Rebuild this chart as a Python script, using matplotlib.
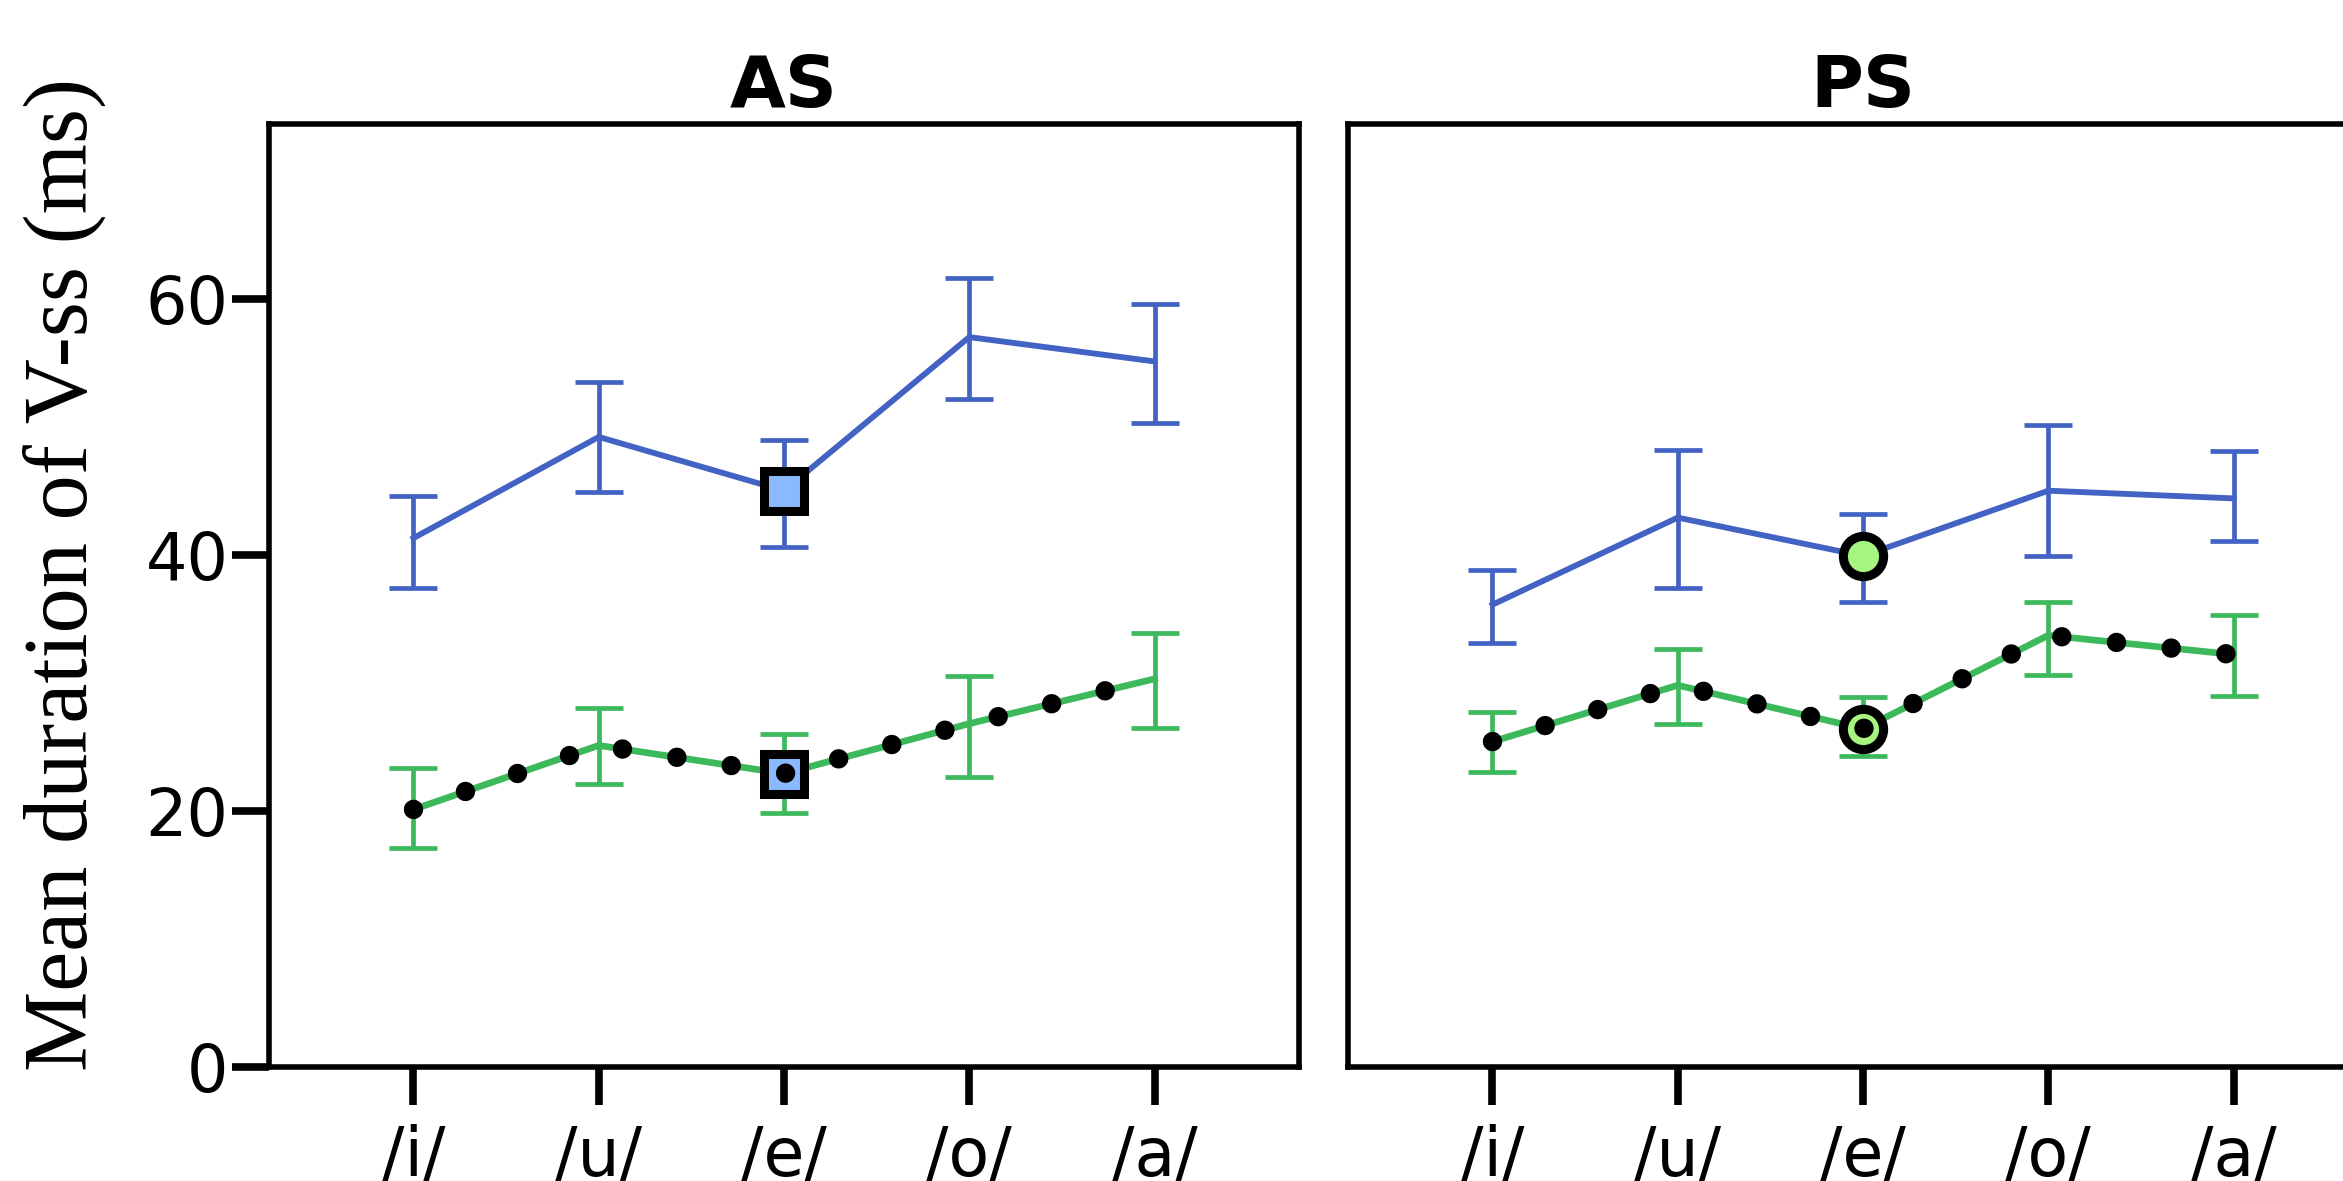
import numpy as np
import matplotlib.pyplot as plt

plt.rcParams['lines.scale_dashes'] = False

vowels = ['/i/', '/u/', '/e/', '/o/', '/a/']
panels = ['AS', 'PS']

# AS panel: mean and error bar ends (ms)
as_blue = [41.3, 49.2, 45.0, 57.0, 55.1]
as_blue_hi = [44.6, 53.5, 49.0, 61.6, 59.6]
as_blue_lo = [37.4, 44.9, 40.6, 52.2, 50.3]
as_green = [20.1, 25.1, 22.9, 26.8, 30.3]
as_green_hi = [23.3, 28.0, 26.0, 30.5, 33.9]
as_green_lo = [17.1, 22.1, 19.8, 22.6, 26.5]

# PS panel
ps_blue = [36.1, 42.9, 39.9, 45.0, 44.4]
ps_blue_hi = [38.8, 48.2, 43.2, 50.1, 48.1]
ps_blue_lo = [33.1, 37.4, 36.3, 39.9, 41.1]
ps_green = [25.4, 29.8, 26.4, 33.7, 32.2]
ps_green_hi = [27.7, 32.6, 28.9, 36.3, 35.3]
ps_green_lo = [23.0, 26.8, 24.3, 30.6, 29.0]

blue = '#4262c4'
green = '#3cb95a'
W, H = 2343, 1181

fig = plt.figure(figsize=(W / 100, H / 100), dpi=100)
ax_as = fig.add_axes([269 / W, 1 - 1066.7 / H, 1030 / W, 942.7 / H])
ax_ps = fig.add_axes([1348 / W, 1 - 1066.7 / H, 1030 / W, 942.7 / H])

x = np.arange(len(vowels))


def draw_panel(ax, title, b, b_hi, b_lo, g, g_hi, g_lo, marker, face):
    b, g = np.array(b), np.array(g)
    ax.errorbar(x, b, yerr=[b - np.array(b_lo), np.array(b_hi) - b], color=blue,
                lw=4.2, elinewidth=3.4, capsize=17, capthick=3.4, zorder=2)
    ax.errorbar(x, g, yerr=[g - np.array(g_lo), np.array(g_hi) - g], color=green,
                lw=4.8, elinewidth=3.4, capsize=17, capthick=3.4, zorder=2)
    # highlighted /e/ points
    ax.plot(x[2], b[2], marker=marker, ms=29, mfc=face, mec='black', mew=6.5, zorder=3)
    ax.plot(x[2], g[2], marker=marker, ms=29, mfc=face, mec='black', mew=6.5, zorder=3)
    # black dotted overlay on the green line
    ax.plot(x, g, color='black', lw=14, dashes=(0.001, 39.6),
            dash_capstyle='round', zorder=4)

    ax.set_xlim(-0.78, 4.78)
    ax.set_ylim(0, 73.65)
    ax.set_xticks(x)
    ax.set_xticklabels(vowels)
    ax.set_title(title, fontsize=52, fontweight='bold', pad=12)
    for s in ax.spines.values():
        s.set_linewidth(4)
    ax.tick_params(axis='x', length=27, width=5.5, labelsize=48, pad=14)
    ax.tick_params(axis='y', length=27, width=5.5, labelsize=47, pad=2)


draw_panel(ax_as, 'AS', as_blue, as_blue_hi, as_blue_lo,
           as_green, as_green_hi, as_green_lo, 's', '#8ab9ff')
draw_panel(ax_ps, 'PS', ps_blue, ps_blue_hi, ps_blue_lo,
           ps_green, ps_green_hi, ps_green_lo, 'o', '#a6f57f')

ax_as.set_yticks([0, 20, 40, 60])
ax_ps.set_yticks([])

fig.text(64 / W, 1 - 574 / H, 'Mean duration of V-ss (ms)', rotation=90,
         ha='center', va='center', fontsize=65, family='Liberation Serif')

fig.savefig('out.png', dpi=100)
